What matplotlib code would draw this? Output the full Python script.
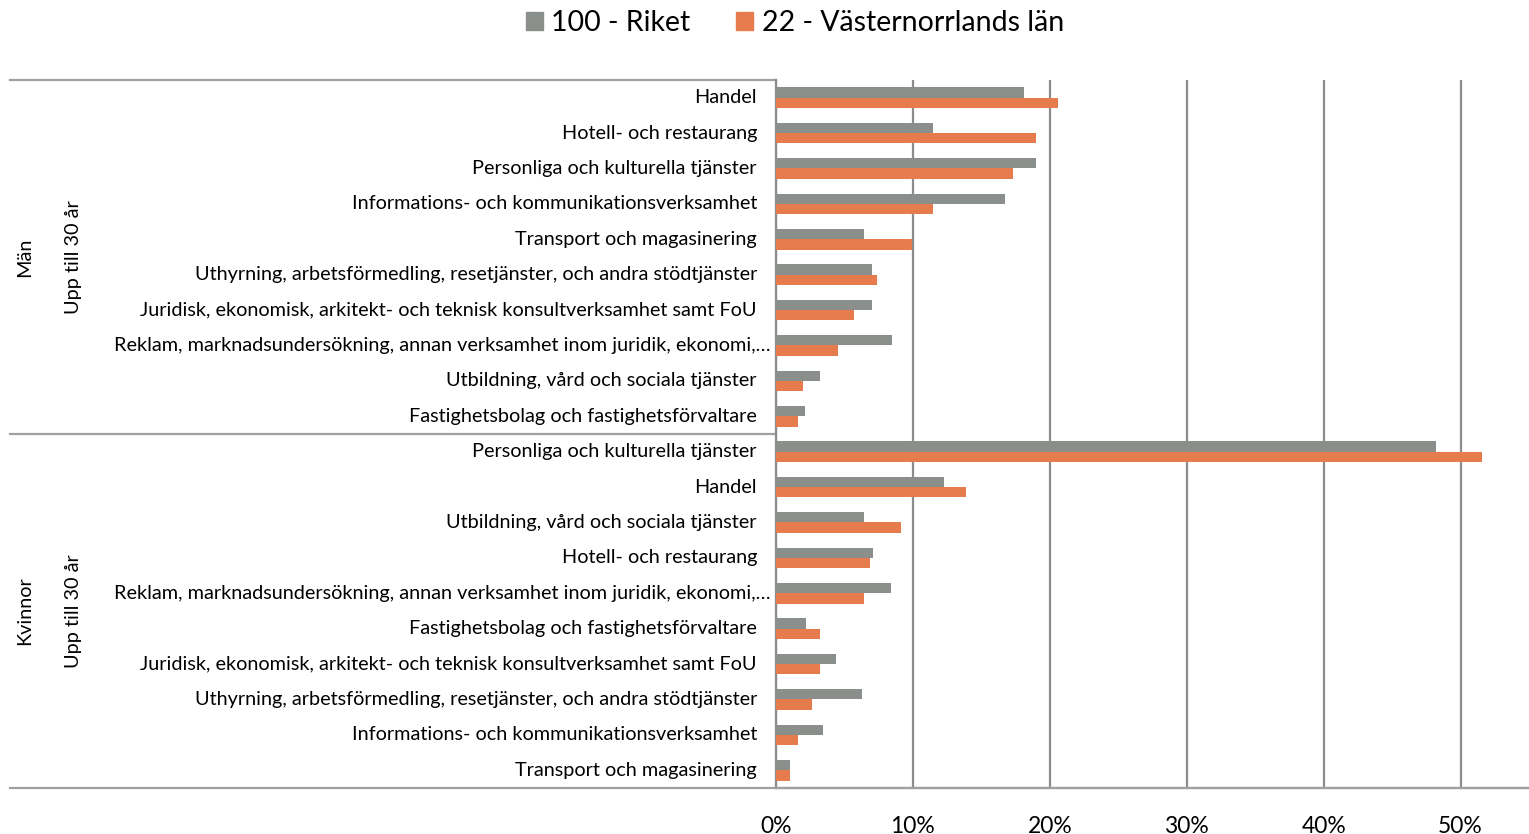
import matplotlib
matplotlib.use("Agg")
import matplotlib.pyplot as plt
from matplotlib.lines import Line2D
from matplotlib.patches import Patch
from matplotlib.ticker import FuncFormatter
import matplotlib.transforms as mtrans

plt.rcParams['font.family'] = ['Lato', 'DejaVu Sans']

# ---------------------------------------------------------
# Data (andel i procent)
# ---------------------------------------------------------
series_names = ["100 - Riket", "22 - Västernorrlands län"]
colors = ["#8a8f8c", "#e67c4e"]

man_labels = [
    "Handel",
    "Hotell- och restaurang",
    "Personliga och kulturella tjänster",
    "Informations- och kommunikationsverksamhet",
    "Transport och magasinering",
    "Uthyrning, arbetsförmedling, resetjänster, och andra stödtjänster",
    "Juridisk, ekonomisk, arkitekt- och teknisk konsultverksamhet samt FoU",
    "Reklam, marknadsundersökning, annan verksamhet inom juridik, ekonomi,…",
    "Utbildning, vård och sociala tjänster",
    "Fastighetsbolag och fastighetsförvaltare",
]
man_riket = [18.1, 11.5, 19.0, 16.7, 6.4, 7.0, 7.0, 8.5, 3.2, 2.1]
man_vnl = [20.6, 19.0, 17.3, 11.5, 9.9, 7.4, 5.7, 4.5, 2.0, 1.6]

kvinnor_labels = [
    "Personliga och kulturella tjänster",
    "Handel",
    "Utbildning, vård och sociala tjänster",
    "Hotell- och restaurang",
    "Reklam, marknadsundersökning, annan verksamhet inom juridik, ekonomi,…",
    "Fastighetsbolag och fastighetsförvaltare",
    "Juridisk, ekonomisk, arkitekt- och teknisk konsultverksamhet samt FoU",
    "Uthyrning, arbetsförmedling, resetjänster, och andra stödtjänster",
    "Informations- och kommunikationsverksamhet",
    "Transport och magasinering",
]
kvinnor_riket = [48.2, 12.3, 6.4, 7.1, 8.4, 2.2, 4.4, 6.3, 3.4, 1.0]
kvinnor_vnl = [51.6, 13.9, 9.1, 6.9, 6.4, 3.2, 3.2, 2.6, 1.6, 1.0]

groups = ["Män", "Kvinnor"]
age_group = "Upp till 30 år"
x_ticks = [0, 10, 20, 30, 40, 50]

labels = man_labels + kvinnor_labels
riket = man_riket + kvinnor_riket
vnl = man_vnl + kvinnor_vnl

# ---------------------------------------------------------
# Figure
# ---------------------------------------------------------
W, H = 1529, 834
fig = plt.figure(figsize=(W / 100, H / 100), dpi=100)
ax = fig.add_axes([776 / W, (H - 788) / H, (W - 776) / W, (788 - 80) / H])

ypos = list(range(len(labels)))
bh = 0.29
ax.barh([y - bh / 2 for y in ypos], riket, height=bh, color=colors[0], zorder=3)
ax.barh([y + bh / 2 for y in ypos], vnl, height=bh, color=colors[1], zorder=3)

ax.set_ylim(len(labels) - 0.5, -0.5)
ax.set_xlim(0, 55)
ax.set_yticks([])
ax.set_xticks(x_ticks)
ax.xaxis.set_major_formatter(FuncFormatter(lambda v, p: f"{v:.0f}%"))
ax.tick_params(axis='x', length=0, pad=20, labelsize=16.5, labelcolor='black')

ax.grid(axis='x', color='#8c8c8c', linewidth=1.6, zorder=0)
for s in ['top', 'right']:
    ax.spines[s].set_visible(False)
ax.spines['left'].set_color('#8c8c8c')
ax.spines['left'].set_linewidth(1.6)
ax.spines['bottom'].set_color('#a0a0a0')
ax.spines['bottom'].set_linewidth(1.6)

# category labels (x in figure coords, y in data)
tr = mtrans.blended_transform_factory(fig.transFigure, ax.transData)
fs = 14.3
for y, lab in zip(ypos, labels):
    xr = 771 if lab.endswith("…") else 757
    ax.text(xr / W, y, lab, transform=tr, ha='right', va='center',
            fontsize=fs, clip_on=False)

# separators of the multi-level axis
n = len(man_labels)
for yy, x1 in [(-0.5, 776), (n - 0.5, 776), (len(labels) - 0.5, W)]:
    ax.add_line(Line2D([10 / W, x1 / W], [yy, yy], transform=tr,
                       color='#a0a0a0', linewidth=1.6, clip_on=False))

# group labels
for g, (start, cnt) in zip(groups, [(0, n), (n, len(kvinnor_labels))]):
    yc = start + (cnt - 1) / 2
    ax.text(25 / W, yc, g, transform=tr, rotation=90, ha='center',
            va='center', fontsize=fs, clip_on=False)
    ax.text(73 / W, yc, age_group, transform=tr, rotation=90, ha='center',
            va='center', fontsize=fs, clip_on=False)

# legend
handles = [Patch(color=c) for c in colors]
fig.legend(handles, series_names, loc='center', bbox_to_anchor=(795 / W, 1 - 23 / H),
           ncol=2, frameon=False, fontsize=20.5, handlelength=0.6,
           handleheight=0.6, handletextpad=0.3, columnspacing=1.6)

fig.savefig("out.png", dpi=100)
